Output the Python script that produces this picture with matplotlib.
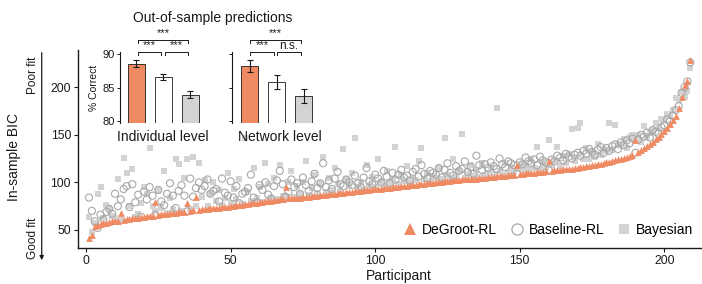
import matplotlib
matplotlib.use("Agg")
import matplotlib.pyplot as plt
from matplotlib.lines import Line2D
from matplotlib.patches import FancyArrowPatch
import numpy as np

plt.rcParams['font.family'] = ['Liberation Sans', 'DejaVu Sans']

# ---------------- data ----------------
degroot = [
    42, 45, 54, 55, 56, 57, 57.5, 58, 59, 59,
    59.5, 68, 60, 61, 61.5, 62, 62, 63, 63.5, 64,
    64.5, 65, 65, 79, 66, 66.5, 67, 67, 67.5, 68,
    68, 68.5, 69, 69, 78, 70, 70.5, 85, 71, 71.5,
    72, 72, 72.5, 73, 73, 73.5, 74, 74, 74.5, 75,
    75.5, 76, 76, 76.5, 77, 77.5, 78, 78, 78.5, 79,
    79.5, 80, 80, 80.5, 81, 81.5, 82, 82, 95, 83,
    83, 83.5, 84, 84, 84.5, 85, 85, 85.5, 86, 86,
    86.5, 87, 87, 87.5, 88, 88, 88.5, 89, 89, 89.5,
    90, 90, 90.5, 91, 91, 91.5, 92, 92, 92.5, 93,
    93, 93.5, 94, 94, 94.5, 95, 95, 95.5, 96, 96,
    96.5, 97, 97, 97.5, 98, 98, 98.5, 99, 99, 99.5,
    100, 100, 100.5, 101, 101, 101.5, 102, 102, 102.5, 103,
    103, 103.5, 103.5, 104, 104, 104.5, 105, 105, 105.5, 106,
    106, 106.5, 106.5, 107, 107, 107.5, 108, 108, 118, 109,
    109, 109.5, 109.5, 110, 110, 110.5, 111, 111, 111.5, 122,
    112, 112.5, 112.5, 113, 113.5, 114, 114, 114.5, 115, 115.5,
    116, 116.5, 117, 117.5, 118, 118.5, 119, 119.5, 120, 121,
    121.5, 122, 123, 124, 125, 126, 127, 128, 129, 144,
    132, 134, 136, 138, 140, 142, 145, 148, 151, 154,
    157, 161, 165, 170, 178, 190, 202, 206, 229,
]

bayesian = [
    64, 48, 57, 88, 95, 62, 76, 73, 65, 62,
    104, 60, 126, 110, 75, 114, 64, 67, 78, 95,
    88, 136, 75, 70, 92, 73, 112, 68, 84, 72,
    125, 119, 70, 105, 124, 72, 127, 75, 120, 85,
    102, 75, 88, 100, 80, 92, 76, 84, 110, 78,
    93, 82, 104, 77, 147, 90, 80, 115, 83, 95,
    79, 120, 98, 84, 105, 82, 118, 86, 83, 100,
    112, 85, 96, 88, 100, 122, 87, 94, 108, 89,
    99, 127, 90, 105, 92, 115, 98, 91, 135, 104,
    96, 110, 147, 95, 100, 93, 118, 97, 106, 95,
    125, 100, 97, 112, 99, 103, 137, 98, 108, 101,
    117, 99, 104, 102, 122, 136, 103, 110, 101, 107,
    105, 115, 103, 147, 108, 104, 125, 106, 112, 151,
    105, 109, 118, 107, 113, 106, 120, 108, 110, 115,
    109, 178, 112, 108, 120, 110, 116, 111, 114, 119,
    112, 118, 113, 125, 115, 137, 114, 120, 116, 144,
    118, 123, 137, 117, 128, 120, 130, 156, 122, 157,
    162, 125, 136, 124, 132, 127, 140, 129, 135, 133,
    162, 134, 160, 140, 138, 145, 136, 148, 150, 146,
    150, 142, 159, 148, 152, 155, 162, 158, 166, 165,
    172, 170, 176, 189, 186, 195, 190, 196, 220,
]

baseline = [
    84, 70, 59, 52, 66, 61, 69, 72, 67, 88,
    75, 82, 93, 96, 74, 98, 79, 87, 64, 90,
    82, 95, 86, 66, 92, 80, 76, 88, 99, 86,
    73, 91, 97, 86, 69.5, 104, 85, 94, 100, 92,
    96, 103, 88, 91, 93, 80, 104, 89, 86, 101,
    84, 96, 78, 88, 90, 94, 108, 84, 79, 97,
    92, 100, 87, 83, 96, 102, 112, 98, 85, 90,
    103, 95, 99, 88, 105, 97, 91, 101, 109, 94,
    99, 120, 95, 102, 93, 104, 111, 98, 96, 103,
    100, 97, 107, 99, 95, 105, 115, 101, 98, 108,
    104, 100, 112, 106, 99, 110, 103, 108, 113, 105,
    107, 102, 111, 114, 106, 118, 109, 104, 112, 110,
    108, 115, 105, 113, 120, 110, 107, 117, 112, 114,
    122, 111, 116, 109, 128, 118, 113, 119, 115, 121,
    117, 114, 125, 119, 116, 122, 120, 118, 109, 121,
    119, 126, 122, 120, 124, 118, 127, 123, 121, 113,
    124, 122, 128, 126, 123, 130, 127, 125, 129, 131,
    128, 133, 130, 135, 132, 129, 134, 137, 131, 136,
    133, 138, 140, 135, 142, 139, 144, 141, 146, 131,
    145, 150, 148, 152, 147, 155, 153, 151, 158, 160,
    166, 164, 170, 176, 180, 194, 200, 206, 226,
]

participants = np.arange(1, len(degroot) + 1)

models = ["DeGroot-RL", "Baseline-RL", "Bayesian"]
indiv_mean = [88.6, 86.6, 83.9]
indiv_err = [0.5, 0.5, 0.55]
net_mean = [88.2, 85.8, 83.7]
net_err = [0.9, 1.05, 1.1]

# ---------------- styling ----------------
ORANGE = "#EF8A62"
LGREY = "#D3D3D3"
CGREY = "#A8A8A8"
TXT = "#1a1a1a"

W, H = 702, 284
fig = plt.figure(figsize=(W / 100, H / 100), dpi=100)


def fx(px):
    return px / W


def fy(py):
    return 1 - py / H


ax = fig.add_axes([fx(78), fy(248), fx(701 - 78), (248 - 50) / H])
ax.scatter(participants, bayesian, marker="s", s=20, color=LGREY, linewidths=0, zorder=2)
ax.scatter(participants, baseline, marker="o", s=26, facecolors="none", edgecolors=CGREY,
           linewidths=0.8, zorder=3)
ax.scatter(participants, degroot, marker="^", s=24, color=ORANGE, linewidths=0, zorder=4)

ax.set_xlim(-2.8, 212.7)
ax.set_ylim(31, 239)
ax.set_xticks([0, 50, 100, 150, 200])
ax.set_yticks([50, 100, 150, 200])
for s in ["top", "right"]:
    ax.spines[s].set_visible(False)
for s in ["left", "bottom"]:
    ax.spines[s].set_linewidth(1.0)
    ax.spines[s].set_color(TXT)
ax.tick_params(direction="out", length=3, width=0.8, color=TXT, labelcolor=TXT,
               labelsize=8.8, pad=2)

handles = [
    Line2D([], [], marker="^", ls="", color=ORANGE, markersize=8, markeredgewidth=0),
    Line2D([], [], marker="o", ls="", markerfacecolor="none", markeredgecolor=CGREY,
           markersize=8, markeredgewidth=0.9),
    Line2D([], [], marker="s", ls="", color=LGREY, markersize=7, markeredgewidth=0),
]
leg = ax.legend(handles, models, ncol=3, loc="lower right", bbox_to_anchor=(1.0, 0.015),
                frameon=False, fontsize=10, handletextpad=0.35, columnspacing=0.9,
                handlelength=1.0, borderaxespad=0.2)

fig.text(fx(399), fy(276), "Participant", ha="center", va="center", fontsize=10, color=TXT)
fig.text(fx(14), fy(157), "In-sample BIC", ha="center", va="center", rotation=90,
         fontsize=10, color=TXT)
fig.text(fx(33), fy(75), "Poor fit", ha="center", va="center", rotation=90,
         fontsize=8.5, color=TXT)
fig.text(fx(33), fy(238), "Good fit", ha="center", va="center", rotation=90,
         fontsize=8.5, color=TXT)
fig.add_artist(FancyArrowPatch((fx(41.7), fy(50)), (fx(41.7), fy(263)),
                               transform=fig.transFigure, arrowstyle="-|>",
                               mutation_scale=6, lw=0.9, color=TXT))

# ---------------- insets ----------------
bar_colors = [ORANGE, "white", LGREY]
xpos = np.arange(3)


def bracket(a, x0, x1, y, drop, label, ty, fs):
    a.plot([x0, x0, x1, x1], [y - drop, y, y, y - drop], color=TXT, lw=0.7,
           clip_on=False)
    a.text((x0 + x1) / 2, ty, label, ha="center", va="center", fontsize=fs, color=TXT,
           clip_on=False)


def inset(left_px, xlim, means, errs, show_labels):
    a = fig.add_axes([fx(left_px), fy(123), (xlim[1] - xlim[0]) * 27 / W, 71 / H])
    a.bar(xpos, means, width=0.62, color=bar_colors, edgecolor=TXT, linewidth=0.6,
          zorder=2)
    a.errorbar(xpos, means, yerr=errs, fmt="none", ecolor=TXT, elinewidth=0.8,
               capsize=2, capthick=0.8, zorder=3)
    a.set_xlim(*xlim)
    a.set_ylim(79.65, 90.35)
    a.set_yticks([80, 85, 90])
    a.set_xticks([])
    for s in ["top", "right", "bottom"]:
        a.spines[s].set_visible(False)
    a.spines["left"].set_linewidth(0.8)
    a.spines["left"].set_color(TXT)
    a.tick_params(axis="y", direction="out", length=2.5, width=0.7, color=TXT,
                  labelcolor=TXT, labelsize=8, pad=1.5, labelleft=show_labels)
    a.patch.set_alpha(0)
    return a


a1 = inset(120, (-0.6, 2.55), indiv_mean, indiv_err, True)
a1.set_ylabel("% Correct", fontsize=7.5, color=TXT, labelpad=2)
bracket(a1, 0.05, 1.93, 92.15, 0.5, "***", 93.2, 8)
bracket(a1, 0.05, 0.93, 90.4, 0.5, "***", 91.4, 8)
bracket(a1, 1.08, 1.93, 90.4, 0.5, "***", 91.4, 8)

a2 = inset(231.7, (-0.67, 2.5), net_mean, net_err, False)
bracket(a2, 0.02, 1.9, 92.15, 0.5, "***", 93.2, 8)
bracket(a2, 0.02, 0.88, 90.4, 0.5, "***", 91.4, 8)
bracket(a2, 1.0, 1.9, 90.4, 0.5, "n.s.", 91.25, 8.5)

fig.text(fx(213), fy(18), "Out-of-sample predictions", ha="center", va="center",
         fontsize=10, color=TXT)
fig.text(fx(163), fy(137), "Individual level", ha="center", va="center", fontsize=10,
         color=TXT)
fig.text(fx(280), fy(137), "Network level", ha="center", va="center", fontsize=10,
         color=TXT)

fig.savefig("out.png", dpi=100)
